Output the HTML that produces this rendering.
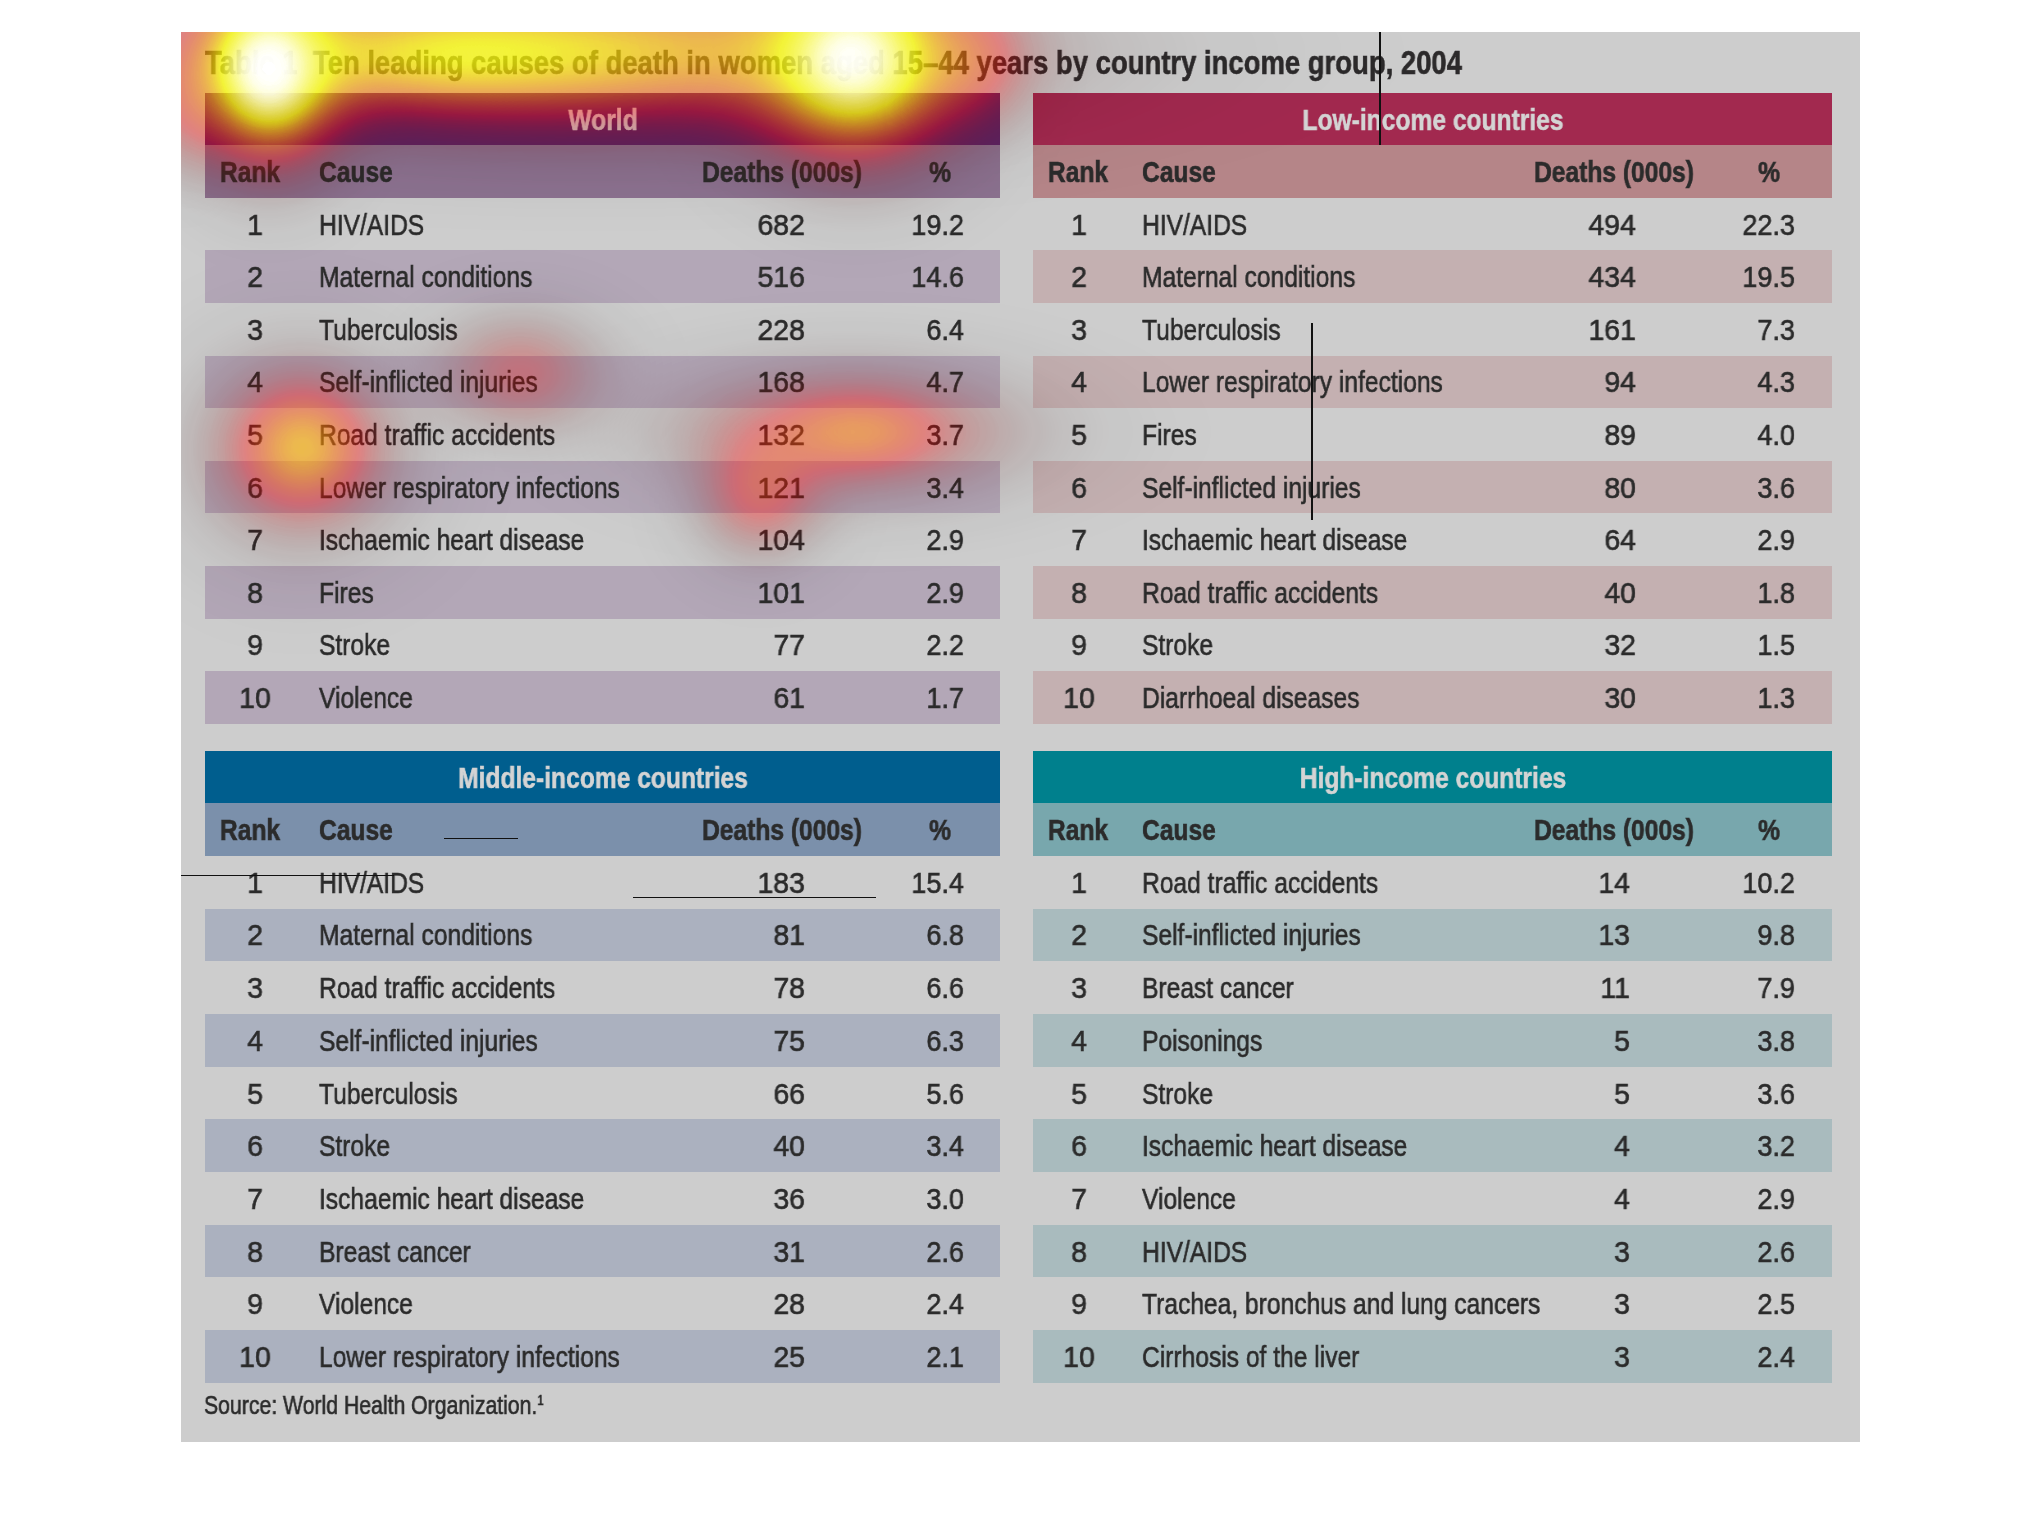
<!DOCTYPE html>
<html><head><meta charset="utf-8"><style>
html,body{margin:0;padding:0;width:2042px;height:1530px;background:#fff;overflow:hidden}
#panel{position:absolute;left:181px;top:32px;width:1679px;height:1410px;background:#cdcdcd}
.r{position:absolute}
.t{position:absolute;white-space:nowrap;font-family:"Liberation Sans",sans-serif;-webkit-text-stroke:0.6px currentColor;will-change:transform}
.ln{position:absolute;background:#111}
</style></head><body>
<div id="panel"></div>
<div class="t" style="left:205px;top:39px;width:1600px;height:46px;line-height:46px;transform-origin:0 0;transform:scaleX(0.808);font-size:34px;font-weight:700;color:#2c2a2b">Table 1&nbsp; Ten leading causes of death in women aged 15–44 years by country income group, 2004</div>
<div class="r" style="left:205px;top:93.00px;width:795px;height:52.00px;background:#5c2566"></div>
<div class="t" style="left:252.50px;top:93.70px;width:700px;height:52.00px;line-height:52.00px;text-align:center;transform-origin:50% 0;transform:scaleX(0.82);font-size:30px;font-weight:700;color:#d4d4d4;">World</div>
<div class="r" style="left:205px;top:145.00px;width:795px;height:52.80px;background:#8c7290"></div>
<div class="t" style="left:-100.50px;top:145.00px;width:700px;height:53.00px;line-height:53.00px;text-align:center;transform-origin:50% 0;transform:scaleX(0.82);font-size:30px;font-weight:700;color:#2b2b2b;">Rank</div>
<div class="t" style="left:319.00px;top:145.00px;width:700px;height:53.00px;line-height:53.00px;text-align:left;transform-origin:0 0;transform:scaleX(0.82);font-size:30px;font-weight:700;color:#2b2b2b;">Cause</div>
<div class="t" style="left:431.50px;top:145.00px;width:700px;height:53.00px;line-height:53.00px;text-align:center;transform-origin:50% 0;transform:scaleX(0.82);font-size:30px;font-weight:700;color:#2b2b2b;">Deaths (000s)</div>
<div class="t" style="left:589.50px;top:145.00px;width:700px;height:53.00px;line-height:53.00px;text-align:center;transform-origin:50% 0;transform:scaleX(0.82);font-size:30px;font-weight:700;color:#2b2b2b;">%</div>
<div class="t" style="left:-95.50px;top:198.60px;width:700px;height:52.60px;line-height:52.60px;text-align:center;transform-origin:50% 0;transform:scaleX(0.951);font-size:30px;font-weight:400;color:#2b2b2b;">1</div>
<div class="t" style="left:319.00px;top:198.60px;width:700px;height:52.60px;line-height:52.60px;text-align:left;transform-origin:0 0;transform:scaleX(0.82);font-size:30px;font-weight:400;color:#2b2b2b;">HIV/AIDS</div>
<div class="t" style="left:105.00px;top:198.60px;width:700px;height:52.60px;line-height:52.60px;text-align:right;transform-origin:100% 0;transform:scaleX(0.951);font-size:30px;font-weight:400;color:#2b2b2b;">682</div>
<div class="t" style="left:264.00px;top:198.60px;width:700px;height:52.60px;line-height:52.60px;text-align:right;transform-origin:100% 0;transform:scaleX(0.9);font-size:30px;font-weight:400;color:#2b2b2b;">19.2</div>
<div class="r" style="left:205px;top:250.40px;width:795px;height:52.60px;background:#b3a7b7"></div>
<div class="t" style="left:-95.50px;top:251.20px;width:700px;height:52.60px;line-height:52.60px;text-align:center;transform-origin:50% 0;transform:scaleX(0.951);font-size:30px;font-weight:400;color:#2b2b2b;">2</div>
<div class="t" style="left:319.00px;top:251.20px;width:700px;height:52.60px;line-height:52.60px;text-align:left;transform-origin:0 0;transform:scaleX(0.82);font-size:30px;font-weight:400;color:#2b2b2b;">Maternal conditions</div>
<div class="t" style="left:105.00px;top:251.20px;width:700px;height:52.60px;line-height:52.60px;text-align:right;transform-origin:100% 0;transform:scaleX(0.951);font-size:30px;font-weight:400;color:#2b2b2b;">516</div>
<div class="t" style="left:264.00px;top:251.20px;width:700px;height:52.60px;line-height:52.60px;text-align:right;transform-origin:100% 0;transform:scaleX(0.9);font-size:30px;font-weight:400;color:#2b2b2b;">14.6</div>
<div class="t" style="left:-95.50px;top:303.80px;width:700px;height:52.60px;line-height:52.60px;text-align:center;transform-origin:50% 0;transform:scaleX(0.951);font-size:30px;font-weight:400;color:#2b2b2b;">3</div>
<div class="t" style="left:319.00px;top:303.80px;width:700px;height:52.60px;line-height:52.60px;text-align:left;transform-origin:0 0;transform:scaleX(0.82);font-size:30px;font-weight:400;color:#2b2b2b;">Tuberculosis</div>
<div class="t" style="left:105.00px;top:303.80px;width:700px;height:52.60px;line-height:52.60px;text-align:right;transform-origin:100% 0;transform:scaleX(0.951);font-size:30px;font-weight:400;color:#2b2b2b;">228</div>
<div class="t" style="left:264.00px;top:303.80px;width:700px;height:52.60px;line-height:52.60px;text-align:right;transform-origin:100% 0;transform:scaleX(0.9);font-size:30px;font-weight:400;color:#2b2b2b;">6.4</div>
<div class="r" style="left:205px;top:355.60px;width:795px;height:52.60px;background:#b3a7b7"></div>
<div class="t" style="left:-95.50px;top:356.40px;width:700px;height:52.60px;line-height:52.60px;text-align:center;transform-origin:50% 0;transform:scaleX(0.951);font-size:30px;font-weight:400;color:#2b2b2b;">4</div>
<div class="t" style="left:319.00px;top:356.40px;width:700px;height:52.60px;line-height:52.60px;text-align:left;transform-origin:0 0;transform:scaleX(0.82);font-size:30px;font-weight:400;color:#2b2b2b;">Self-inflicted injuries</div>
<div class="t" style="left:105.00px;top:356.40px;width:700px;height:52.60px;line-height:52.60px;text-align:right;transform-origin:100% 0;transform:scaleX(0.951);font-size:30px;font-weight:400;color:#2b2b2b;">168</div>
<div class="t" style="left:264.00px;top:356.40px;width:700px;height:52.60px;line-height:52.60px;text-align:right;transform-origin:100% 0;transform:scaleX(0.9);font-size:30px;font-weight:400;color:#2b2b2b;">4.7</div>
<div class="t" style="left:-95.50px;top:409.00px;width:700px;height:52.60px;line-height:52.60px;text-align:center;transform-origin:50% 0;transform:scaleX(0.951);font-size:30px;font-weight:400;color:#2b2b2b;">5</div>
<div class="t" style="left:319.00px;top:409.00px;width:700px;height:52.60px;line-height:52.60px;text-align:left;transform-origin:0 0;transform:scaleX(0.82);font-size:30px;font-weight:400;color:#2b2b2b;">Road traffic accidents</div>
<div class="t" style="left:105.00px;top:409.00px;width:700px;height:52.60px;line-height:52.60px;text-align:right;transform-origin:100% 0;transform:scaleX(0.951);font-size:30px;font-weight:400;color:#2b2b2b;">132</div>
<div class="t" style="left:264.00px;top:409.00px;width:700px;height:52.60px;line-height:52.60px;text-align:right;transform-origin:100% 0;transform:scaleX(0.9);font-size:30px;font-weight:400;color:#2b2b2b;">3.7</div>
<div class="r" style="left:205px;top:460.80px;width:795px;height:52.60px;background:#b3a7b7"></div>
<div class="t" style="left:-95.50px;top:461.60px;width:700px;height:52.60px;line-height:52.60px;text-align:center;transform-origin:50% 0;transform:scaleX(0.951);font-size:30px;font-weight:400;color:#2b2b2b;">6</div>
<div class="t" style="left:319.00px;top:461.60px;width:700px;height:52.60px;line-height:52.60px;text-align:left;transform-origin:0 0;transform:scaleX(0.82);font-size:30px;font-weight:400;color:#2b2b2b;">Lower respiratory infections</div>
<div class="t" style="left:105.00px;top:461.60px;width:700px;height:52.60px;line-height:52.60px;text-align:right;transform-origin:100% 0;transform:scaleX(0.951);font-size:30px;font-weight:400;color:#2b2b2b;">121</div>
<div class="t" style="left:264.00px;top:461.60px;width:700px;height:52.60px;line-height:52.60px;text-align:right;transform-origin:100% 0;transform:scaleX(0.9);font-size:30px;font-weight:400;color:#2b2b2b;">3.4</div>
<div class="t" style="left:-95.50px;top:514.20px;width:700px;height:52.60px;line-height:52.60px;text-align:center;transform-origin:50% 0;transform:scaleX(0.951);font-size:30px;font-weight:400;color:#2b2b2b;">7</div>
<div class="t" style="left:319.00px;top:514.20px;width:700px;height:52.60px;line-height:52.60px;text-align:left;transform-origin:0 0;transform:scaleX(0.82);font-size:30px;font-weight:400;color:#2b2b2b;">Ischaemic heart disease</div>
<div class="t" style="left:105.00px;top:514.20px;width:700px;height:52.60px;line-height:52.60px;text-align:right;transform-origin:100% 0;transform:scaleX(0.951);font-size:30px;font-weight:400;color:#2b2b2b;">104</div>
<div class="t" style="left:264.00px;top:514.20px;width:700px;height:52.60px;line-height:52.60px;text-align:right;transform-origin:100% 0;transform:scaleX(0.9);font-size:30px;font-weight:400;color:#2b2b2b;">2.9</div>
<div class="r" style="left:205px;top:566.00px;width:795px;height:52.60px;background:#b3a7b7"></div>
<div class="t" style="left:-95.50px;top:566.80px;width:700px;height:52.60px;line-height:52.60px;text-align:center;transform-origin:50% 0;transform:scaleX(0.951);font-size:30px;font-weight:400;color:#2b2b2b;">8</div>
<div class="t" style="left:319.00px;top:566.80px;width:700px;height:52.60px;line-height:52.60px;text-align:left;transform-origin:0 0;transform:scaleX(0.82);font-size:30px;font-weight:400;color:#2b2b2b;">Fires</div>
<div class="t" style="left:105.00px;top:566.80px;width:700px;height:52.60px;line-height:52.60px;text-align:right;transform-origin:100% 0;transform:scaleX(0.951);font-size:30px;font-weight:400;color:#2b2b2b;">101</div>
<div class="t" style="left:264.00px;top:566.80px;width:700px;height:52.60px;line-height:52.60px;text-align:right;transform-origin:100% 0;transform:scaleX(0.9);font-size:30px;font-weight:400;color:#2b2b2b;">2.9</div>
<div class="t" style="left:-95.50px;top:619.40px;width:700px;height:52.60px;line-height:52.60px;text-align:center;transform-origin:50% 0;transform:scaleX(0.951);font-size:30px;font-weight:400;color:#2b2b2b;">9</div>
<div class="t" style="left:319.00px;top:619.40px;width:700px;height:52.60px;line-height:52.60px;text-align:left;transform-origin:0 0;transform:scaleX(0.82);font-size:30px;font-weight:400;color:#2b2b2b;">Stroke</div>
<div class="t" style="left:105.00px;top:619.40px;width:700px;height:52.60px;line-height:52.60px;text-align:right;transform-origin:100% 0;transform:scaleX(0.951);font-size:30px;font-weight:400;color:#2b2b2b;">77</div>
<div class="t" style="left:264.00px;top:619.40px;width:700px;height:52.60px;line-height:52.60px;text-align:right;transform-origin:100% 0;transform:scaleX(0.9);font-size:30px;font-weight:400;color:#2b2b2b;">2.2</div>
<div class="r" style="left:205px;top:671.20px;width:795px;height:52.60px;background:#b3a7b7"></div>
<div class="t" style="left:-95.50px;top:672.00px;width:700px;height:52.60px;line-height:52.60px;text-align:center;transform-origin:50% 0;transform:scaleX(0.951);font-size:30px;font-weight:400;color:#2b2b2b;">10</div>
<div class="t" style="left:319.00px;top:672.00px;width:700px;height:52.60px;line-height:52.60px;text-align:left;transform-origin:0 0;transform:scaleX(0.82);font-size:30px;font-weight:400;color:#2b2b2b;">Violence</div>
<div class="t" style="left:105.00px;top:672.00px;width:700px;height:52.60px;line-height:52.60px;text-align:right;transform-origin:100% 0;transform:scaleX(0.951);font-size:30px;font-weight:400;color:#2b2b2b;">61</div>
<div class="t" style="left:264.00px;top:672.00px;width:700px;height:52.60px;line-height:52.60px;text-align:right;transform-origin:100% 0;transform:scaleX(0.9);font-size:30px;font-weight:400;color:#2b2b2b;">1.7</div>
<div class="r" style="left:1033px;top:93.00px;width:799px;height:52.00px;background:#a2294f"></div>
<div class="t" style="left:1082.50px;top:93.70px;width:700px;height:52.00px;line-height:52.00px;text-align:center;transform-origin:50% 0;transform:scaleX(0.82);font-size:30px;font-weight:700;color:#d4d4d4;">Low-income countries</div>
<div class="r" style="left:1033px;top:145.00px;width:799px;height:52.80px;background:#b58588"></div>
<div class="t" style="left:728.00px;top:145.00px;width:700px;height:53.00px;line-height:53.00px;text-align:center;transform-origin:50% 0;transform:scaleX(0.82);font-size:30px;font-weight:700;color:#2b2b2b;">Rank</div>
<div class="t" style="left:1141.50px;top:145.00px;width:700px;height:53.00px;line-height:53.00px;text-align:left;transform-origin:0 0;transform:scaleX(0.82);font-size:30px;font-weight:700;color:#2b2b2b;">Cause</div>
<div class="t" style="left:1263.50px;top:145.00px;width:700px;height:53.00px;line-height:53.00px;text-align:center;transform-origin:50% 0;transform:scaleX(0.82);font-size:30px;font-weight:700;color:#2b2b2b;">Deaths (000s)</div>
<div class="t" style="left:1419.00px;top:145.00px;width:700px;height:53.00px;line-height:53.00px;text-align:center;transform-origin:50% 0;transform:scaleX(0.82);font-size:30px;font-weight:700;color:#2b2b2b;">%</div>
<div class="t" style="left:729.00px;top:198.60px;width:700px;height:52.60px;line-height:52.60px;text-align:center;transform-origin:50% 0;transform:scaleX(0.951);font-size:30px;font-weight:400;color:#2b2b2b;">1</div>
<div class="t" style="left:1141.50px;top:198.60px;width:700px;height:52.60px;line-height:52.60px;text-align:left;transform-origin:0 0;transform:scaleX(0.82);font-size:30px;font-weight:400;color:#2b2b2b;">HIV/AIDS</div>
<div class="t" style="left:936.00px;top:198.60px;width:700px;height:52.60px;line-height:52.60px;text-align:right;transform-origin:100% 0;transform:scaleX(0.951);font-size:30px;font-weight:400;color:#2b2b2b;">494</div>
<div class="t" style="left:1095.00px;top:198.60px;width:700px;height:52.60px;line-height:52.60px;text-align:right;transform-origin:100% 0;transform:scaleX(0.9);font-size:30px;font-weight:400;color:#2b2b2b;">22.3</div>
<div class="r" style="left:1033px;top:250.40px;width:799px;height:52.60px;background:#c4b0b1"></div>
<div class="t" style="left:729.00px;top:251.20px;width:700px;height:52.60px;line-height:52.60px;text-align:center;transform-origin:50% 0;transform:scaleX(0.951);font-size:30px;font-weight:400;color:#2b2b2b;">2</div>
<div class="t" style="left:1141.50px;top:251.20px;width:700px;height:52.60px;line-height:52.60px;text-align:left;transform-origin:0 0;transform:scaleX(0.82);font-size:30px;font-weight:400;color:#2b2b2b;">Maternal conditions</div>
<div class="t" style="left:936.00px;top:251.20px;width:700px;height:52.60px;line-height:52.60px;text-align:right;transform-origin:100% 0;transform:scaleX(0.951);font-size:30px;font-weight:400;color:#2b2b2b;">434</div>
<div class="t" style="left:1095.00px;top:251.20px;width:700px;height:52.60px;line-height:52.60px;text-align:right;transform-origin:100% 0;transform:scaleX(0.9);font-size:30px;font-weight:400;color:#2b2b2b;">19.5</div>
<div class="t" style="left:729.00px;top:303.80px;width:700px;height:52.60px;line-height:52.60px;text-align:center;transform-origin:50% 0;transform:scaleX(0.951);font-size:30px;font-weight:400;color:#2b2b2b;">3</div>
<div class="t" style="left:1141.50px;top:303.80px;width:700px;height:52.60px;line-height:52.60px;text-align:left;transform-origin:0 0;transform:scaleX(0.82);font-size:30px;font-weight:400;color:#2b2b2b;">Tuberculosis</div>
<div class="t" style="left:936.00px;top:303.80px;width:700px;height:52.60px;line-height:52.60px;text-align:right;transform-origin:100% 0;transform:scaleX(0.951);font-size:30px;font-weight:400;color:#2b2b2b;">161</div>
<div class="t" style="left:1095.00px;top:303.80px;width:700px;height:52.60px;line-height:52.60px;text-align:right;transform-origin:100% 0;transform:scaleX(0.9);font-size:30px;font-weight:400;color:#2b2b2b;">7.3</div>
<div class="r" style="left:1033px;top:355.60px;width:799px;height:52.60px;background:#c4b0b1"></div>
<div class="t" style="left:729.00px;top:356.40px;width:700px;height:52.60px;line-height:52.60px;text-align:center;transform-origin:50% 0;transform:scaleX(0.951);font-size:30px;font-weight:400;color:#2b2b2b;">4</div>
<div class="t" style="left:1141.50px;top:356.40px;width:700px;height:52.60px;line-height:52.60px;text-align:left;transform-origin:0 0;transform:scaleX(0.82);font-size:30px;font-weight:400;color:#2b2b2b;">Lower respiratory infections</div>
<div class="t" style="left:936.00px;top:356.40px;width:700px;height:52.60px;line-height:52.60px;text-align:right;transform-origin:100% 0;transform:scaleX(0.951);font-size:30px;font-weight:400;color:#2b2b2b;">94</div>
<div class="t" style="left:1095.00px;top:356.40px;width:700px;height:52.60px;line-height:52.60px;text-align:right;transform-origin:100% 0;transform:scaleX(0.9);font-size:30px;font-weight:400;color:#2b2b2b;">4.3</div>
<div class="t" style="left:729.00px;top:409.00px;width:700px;height:52.60px;line-height:52.60px;text-align:center;transform-origin:50% 0;transform:scaleX(0.951);font-size:30px;font-weight:400;color:#2b2b2b;">5</div>
<div class="t" style="left:1141.50px;top:409.00px;width:700px;height:52.60px;line-height:52.60px;text-align:left;transform-origin:0 0;transform:scaleX(0.82);font-size:30px;font-weight:400;color:#2b2b2b;">Fires</div>
<div class="t" style="left:936.00px;top:409.00px;width:700px;height:52.60px;line-height:52.60px;text-align:right;transform-origin:100% 0;transform:scaleX(0.951);font-size:30px;font-weight:400;color:#2b2b2b;">89</div>
<div class="t" style="left:1095.00px;top:409.00px;width:700px;height:52.60px;line-height:52.60px;text-align:right;transform-origin:100% 0;transform:scaleX(0.9);font-size:30px;font-weight:400;color:#2b2b2b;">4.0</div>
<div class="r" style="left:1033px;top:460.80px;width:799px;height:52.60px;background:#c4b0b1"></div>
<div class="t" style="left:729.00px;top:461.60px;width:700px;height:52.60px;line-height:52.60px;text-align:center;transform-origin:50% 0;transform:scaleX(0.951);font-size:30px;font-weight:400;color:#2b2b2b;">6</div>
<div class="t" style="left:1141.50px;top:461.60px;width:700px;height:52.60px;line-height:52.60px;text-align:left;transform-origin:0 0;transform:scaleX(0.82);font-size:30px;font-weight:400;color:#2b2b2b;">Self-inflicted injuries</div>
<div class="t" style="left:936.00px;top:461.60px;width:700px;height:52.60px;line-height:52.60px;text-align:right;transform-origin:100% 0;transform:scaleX(0.951);font-size:30px;font-weight:400;color:#2b2b2b;">80</div>
<div class="t" style="left:1095.00px;top:461.60px;width:700px;height:52.60px;line-height:52.60px;text-align:right;transform-origin:100% 0;transform:scaleX(0.9);font-size:30px;font-weight:400;color:#2b2b2b;">3.6</div>
<div class="t" style="left:729.00px;top:514.20px;width:700px;height:52.60px;line-height:52.60px;text-align:center;transform-origin:50% 0;transform:scaleX(0.951);font-size:30px;font-weight:400;color:#2b2b2b;">7</div>
<div class="t" style="left:1141.50px;top:514.20px;width:700px;height:52.60px;line-height:52.60px;text-align:left;transform-origin:0 0;transform:scaleX(0.82);font-size:30px;font-weight:400;color:#2b2b2b;">Ischaemic heart disease</div>
<div class="t" style="left:936.00px;top:514.20px;width:700px;height:52.60px;line-height:52.60px;text-align:right;transform-origin:100% 0;transform:scaleX(0.951);font-size:30px;font-weight:400;color:#2b2b2b;">64</div>
<div class="t" style="left:1095.00px;top:514.20px;width:700px;height:52.60px;line-height:52.60px;text-align:right;transform-origin:100% 0;transform:scaleX(0.9);font-size:30px;font-weight:400;color:#2b2b2b;">2.9</div>
<div class="r" style="left:1033px;top:566.00px;width:799px;height:52.60px;background:#c4b0b1"></div>
<div class="t" style="left:729.00px;top:566.80px;width:700px;height:52.60px;line-height:52.60px;text-align:center;transform-origin:50% 0;transform:scaleX(0.951);font-size:30px;font-weight:400;color:#2b2b2b;">8</div>
<div class="t" style="left:1141.50px;top:566.80px;width:700px;height:52.60px;line-height:52.60px;text-align:left;transform-origin:0 0;transform:scaleX(0.82);font-size:30px;font-weight:400;color:#2b2b2b;">Road traffic accidents</div>
<div class="t" style="left:936.00px;top:566.80px;width:700px;height:52.60px;line-height:52.60px;text-align:right;transform-origin:100% 0;transform:scaleX(0.951);font-size:30px;font-weight:400;color:#2b2b2b;">40</div>
<div class="t" style="left:1095.00px;top:566.80px;width:700px;height:52.60px;line-height:52.60px;text-align:right;transform-origin:100% 0;transform:scaleX(0.9);font-size:30px;font-weight:400;color:#2b2b2b;">1.8</div>
<div class="t" style="left:729.00px;top:619.40px;width:700px;height:52.60px;line-height:52.60px;text-align:center;transform-origin:50% 0;transform:scaleX(0.951);font-size:30px;font-weight:400;color:#2b2b2b;">9</div>
<div class="t" style="left:1141.50px;top:619.40px;width:700px;height:52.60px;line-height:52.60px;text-align:left;transform-origin:0 0;transform:scaleX(0.82);font-size:30px;font-weight:400;color:#2b2b2b;">Stroke</div>
<div class="t" style="left:936.00px;top:619.40px;width:700px;height:52.60px;line-height:52.60px;text-align:right;transform-origin:100% 0;transform:scaleX(0.951);font-size:30px;font-weight:400;color:#2b2b2b;">32</div>
<div class="t" style="left:1095.00px;top:619.40px;width:700px;height:52.60px;line-height:52.60px;text-align:right;transform-origin:100% 0;transform:scaleX(0.9);font-size:30px;font-weight:400;color:#2b2b2b;">1.5</div>
<div class="r" style="left:1033px;top:671.20px;width:799px;height:52.60px;background:#c4b0b1"></div>
<div class="t" style="left:729.00px;top:672.00px;width:700px;height:52.60px;line-height:52.60px;text-align:center;transform-origin:50% 0;transform:scaleX(0.951);font-size:30px;font-weight:400;color:#2b2b2b;">10</div>
<div class="t" style="left:1141.50px;top:672.00px;width:700px;height:52.60px;line-height:52.60px;text-align:left;transform-origin:0 0;transform:scaleX(0.82);font-size:30px;font-weight:400;color:#2b2b2b;">Diarrhoeal diseases</div>
<div class="t" style="left:936.00px;top:672.00px;width:700px;height:52.60px;line-height:52.60px;text-align:right;transform-origin:100% 0;transform:scaleX(0.951);font-size:30px;font-weight:400;color:#2b2b2b;">30</div>
<div class="t" style="left:1095.00px;top:672.00px;width:700px;height:52.60px;line-height:52.60px;text-align:right;transform-origin:100% 0;transform:scaleX(0.9);font-size:30px;font-weight:400;color:#2b2b2b;">1.3</div>
<div class="r" style="left:205px;top:751.00px;width:795px;height:52.00px;background:#005e8e"></div>
<div class="t" style="left:252.50px;top:751.70px;width:700px;height:52.00px;line-height:52.00px;text-align:center;transform-origin:50% 0;transform:scaleX(0.82);font-size:30px;font-weight:700;color:#d4d4d4;">Middle-income countries</div>
<div class="r" style="left:205px;top:803.00px;width:795px;height:52.90px;background:#7b90ab"></div>
<div class="t" style="left:-100.50px;top:803.00px;width:700px;height:53.00px;line-height:53.00px;text-align:center;transform-origin:50% 0;transform:scaleX(0.82);font-size:30px;font-weight:700;color:#2b2b2b;">Rank</div>
<div class="t" style="left:319.00px;top:803.00px;width:700px;height:53.00px;line-height:53.00px;text-align:left;transform-origin:0 0;transform:scaleX(0.82);font-size:30px;font-weight:700;color:#2b2b2b;">Cause</div>
<div class="t" style="left:431.50px;top:803.00px;width:700px;height:53.00px;line-height:53.00px;text-align:center;transform-origin:50% 0;transform:scaleX(0.82);font-size:30px;font-weight:700;color:#2b2b2b;">Deaths (000s)</div>
<div class="t" style="left:589.50px;top:803.00px;width:700px;height:53.00px;line-height:53.00px;text-align:center;transform-origin:50% 0;transform:scaleX(0.82);font-size:30px;font-weight:700;color:#2b2b2b;">%</div>
<div class="t" style="left:-95.50px;top:856.70px;width:700px;height:52.70px;line-height:52.70px;text-align:center;transform-origin:50% 0;transform:scaleX(0.951);font-size:30px;font-weight:400;color:#2b2b2b;">1</div>
<div class="t" style="left:319.00px;top:856.70px;width:700px;height:52.70px;line-height:52.70px;text-align:left;transform-origin:0 0;transform:scaleX(0.82);font-size:30px;font-weight:400;color:#2b2b2b;">HIV/AIDS</div>
<div class="t" style="left:105.00px;top:856.70px;width:700px;height:52.70px;line-height:52.70px;text-align:right;transform-origin:100% 0;transform:scaleX(0.951);font-size:30px;font-weight:400;color:#2b2b2b;">183</div>
<div class="t" style="left:264.00px;top:856.70px;width:700px;height:52.70px;line-height:52.70px;text-align:right;transform-origin:100% 0;transform:scaleX(0.9);font-size:30px;font-weight:400;color:#2b2b2b;">15.4</div>
<div class="r" style="left:205px;top:908.60px;width:795px;height:52.70px;background:#abb1bf"></div>
<div class="t" style="left:-95.50px;top:909.40px;width:700px;height:52.70px;line-height:52.70px;text-align:center;transform-origin:50% 0;transform:scaleX(0.951);font-size:30px;font-weight:400;color:#2b2b2b;">2</div>
<div class="t" style="left:319.00px;top:909.40px;width:700px;height:52.70px;line-height:52.70px;text-align:left;transform-origin:0 0;transform:scaleX(0.82);font-size:30px;font-weight:400;color:#2b2b2b;">Maternal conditions</div>
<div class="t" style="left:105.00px;top:909.40px;width:700px;height:52.70px;line-height:52.70px;text-align:right;transform-origin:100% 0;transform:scaleX(0.951);font-size:30px;font-weight:400;color:#2b2b2b;">81</div>
<div class="t" style="left:264.00px;top:909.40px;width:700px;height:52.70px;line-height:52.70px;text-align:right;transform-origin:100% 0;transform:scaleX(0.9);font-size:30px;font-weight:400;color:#2b2b2b;">6.8</div>
<div class="t" style="left:-95.50px;top:962.10px;width:700px;height:52.70px;line-height:52.70px;text-align:center;transform-origin:50% 0;transform:scaleX(0.951);font-size:30px;font-weight:400;color:#2b2b2b;">3</div>
<div class="t" style="left:319.00px;top:962.10px;width:700px;height:52.70px;line-height:52.70px;text-align:left;transform-origin:0 0;transform:scaleX(0.82);font-size:30px;font-weight:400;color:#2b2b2b;">Road traffic accidents</div>
<div class="t" style="left:105.00px;top:962.10px;width:700px;height:52.70px;line-height:52.70px;text-align:right;transform-origin:100% 0;transform:scaleX(0.951);font-size:30px;font-weight:400;color:#2b2b2b;">78</div>
<div class="t" style="left:264.00px;top:962.10px;width:700px;height:52.70px;line-height:52.70px;text-align:right;transform-origin:100% 0;transform:scaleX(0.9);font-size:30px;font-weight:400;color:#2b2b2b;">6.6</div>
<div class="r" style="left:205px;top:1014.00px;width:795px;height:52.70px;background:#abb1bf"></div>
<div class="t" style="left:-95.50px;top:1014.80px;width:700px;height:52.70px;line-height:52.70px;text-align:center;transform-origin:50% 0;transform:scaleX(0.951);font-size:30px;font-weight:400;color:#2b2b2b;">4</div>
<div class="t" style="left:319.00px;top:1014.80px;width:700px;height:52.70px;line-height:52.70px;text-align:left;transform-origin:0 0;transform:scaleX(0.82);font-size:30px;font-weight:400;color:#2b2b2b;">Self-inflicted injuries</div>
<div class="t" style="left:105.00px;top:1014.80px;width:700px;height:52.70px;line-height:52.70px;text-align:right;transform-origin:100% 0;transform:scaleX(0.951);font-size:30px;font-weight:400;color:#2b2b2b;">75</div>
<div class="t" style="left:264.00px;top:1014.80px;width:700px;height:52.70px;line-height:52.70px;text-align:right;transform-origin:100% 0;transform:scaleX(0.9);font-size:30px;font-weight:400;color:#2b2b2b;">6.3</div>
<div class="t" style="left:-95.50px;top:1067.50px;width:700px;height:52.70px;line-height:52.70px;text-align:center;transform-origin:50% 0;transform:scaleX(0.951);font-size:30px;font-weight:400;color:#2b2b2b;">5</div>
<div class="t" style="left:319.00px;top:1067.50px;width:700px;height:52.70px;line-height:52.70px;text-align:left;transform-origin:0 0;transform:scaleX(0.82);font-size:30px;font-weight:400;color:#2b2b2b;">Tuberculosis</div>
<div class="t" style="left:105.00px;top:1067.50px;width:700px;height:52.70px;line-height:52.70px;text-align:right;transform-origin:100% 0;transform:scaleX(0.951);font-size:30px;font-weight:400;color:#2b2b2b;">66</div>
<div class="t" style="left:264.00px;top:1067.50px;width:700px;height:52.70px;line-height:52.70px;text-align:right;transform-origin:100% 0;transform:scaleX(0.9);font-size:30px;font-weight:400;color:#2b2b2b;">5.6</div>
<div class="r" style="left:205px;top:1119.40px;width:795px;height:52.70px;background:#abb1bf"></div>
<div class="t" style="left:-95.50px;top:1120.20px;width:700px;height:52.70px;line-height:52.70px;text-align:center;transform-origin:50% 0;transform:scaleX(0.951);font-size:30px;font-weight:400;color:#2b2b2b;">6</div>
<div class="t" style="left:319.00px;top:1120.20px;width:700px;height:52.70px;line-height:52.70px;text-align:left;transform-origin:0 0;transform:scaleX(0.82);font-size:30px;font-weight:400;color:#2b2b2b;">Stroke</div>
<div class="t" style="left:105.00px;top:1120.20px;width:700px;height:52.70px;line-height:52.70px;text-align:right;transform-origin:100% 0;transform:scaleX(0.951);font-size:30px;font-weight:400;color:#2b2b2b;">40</div>
<div class="t" style="left:264.00px;top:1120.20px;width:700px;height:52.70px;line-height:52.70px;text-align:right;transform-origin:100% 0;transform:scaleX(0.9);font-size:30px;font-weight:400;color:#2b2b2b;">3.4</div>
<div class="t" style="left:-95.50px;top:1172.90px;width:700px;height:52.70px;line-height:52.70px;text-align:center;transform-origin:50% 0;transform:scaleX(0.951);font-size:30px;font-weight:400;color:#2b2b2b;">7</div>
<div class="t" style="left:319.00px;top:1172.90px;width:700px;height:52.70px;line-height:52.70px;text-align:left;transform-origin:0 0;transform:scaleX(0.82);font-size:30px;font-weight:400;color:#2b2b2b;">Ischaemic heart disease</div>
<div class="t" style="left:105.00px;top:1172.90px;width:700px;height:52.70px;line-height:52.70px;text-align:right;transform-origin:100% 0;transform:scaleX(0.951);font-size:30px;font-weight:400;color:#2b2b2b;">36</div>
<div class="t" style="left:264.00px;top:1172.90px;width:700px;height:52.70px;line-height:52.70px;text-align:right;transform-origin:100% 0;transform:scaleX(0.9);font-size:30px;font-weight:400;color:#2b2b2b;">3.0</div>
<div class="r" style="left:205px;top:1224.80px;width:795px;height:52.70px;background:#abb1bf"></div>
<div class="t" style="left:-95.50px;top:1225.60px;width:700px;height:52.70px;line-height:52.70px;text-align:center;transform-origin:50% 0;transform:scaleX(0.951);font-size:30px;font-weight:400;color:#2b2b2b;">8</div>
<div class="t" style="left:319.00px;top:1225.60px;width:700px;height:52.70px;line-height:52.70px;text-align:left;transform-origin:0 0;transform:scaleX(0.82);font-size:30px;font-weight:400;color:#2b2b2b;">Breast cancer</div>
<div class="t" style="left:105.00px;top:1225.60px;width:700px;height:52.70px;line-height:52.70px;text-align:right;transform-origin:100% 0;transform:scaleX(0.951);font-size:30px;font-weight:400;color:#2b2b2b;">31</div>
<div class="t" style="left:264.00px;top:1225.60px;width:700px;height:52.70px;line-height:52.70px;text-align:right;transform-origin:100% 0;transform:scaleX(0.9);font-size:30px;font-weight:400;color:#2b2b2b;">2.6</div>
<div class="t" style="left:-95.50px;top:1278.30px;width:700px;height:52.70px;line-height:52.70px;text-align:center;transform-origin:50% 0;transform:scaleX(0.951);font-size:30px;font-weight:400;color:#2b2b2b;">9</div>
<div class="t" style="left:319.00px;top:1278.30px;width:700px;height:52.70px;line-height:52.70px;text-align:left;transform-origin:0 0;transform:scaleX(0.82);font-size:30px;font-weight:400;color:#2b2b2b;">Violence</div>
<div class="t" style="left:105.00px;top:1278.30px;width:700px;height:52.70px;line-height:52.70px;text-align:right;transform-origin:100% 0;transform:scaleX(0.951);font-size:30px;font-weight:400;color:#2b2b2b;">28</div>
<div class="t" style="left:264.00px;top:1278.30px;width:700px;height:52.70px;line-height:52.70px;text-align:right;transform-origin:100% 0;transform:scaleX(0.9);font-size:30px;font-weight:400;color:#2b2b2b;">2.4</div>
<div class="r" style="left:205px;top:1330.20px;width:795px;height:52.70px;background:#abb1bf"></div>
<div class="t" style="left:-95.50px;top:1331.00px;width:700px;height:52.70px;line-height:52.70px;text-align:center;transform-origin:50% 0;transform:scaleX(0.951);font-size:30px;font-weight:400;color:#2b2b2b;">10</div>
<div class="t" style="left:319.00px;top:1331.00px;width:700px;height:52.70px;line-height:52.70px;text-align:left;transform-origin:0 0;transform:scaleX(0.82);font-size:30px;font-weight:400;color:#2b2b2b;">Lower respiratory infections</div>
<div class="t" style="left:105.00px;top:1331.00px;width:700px;height:52.70px;line-height:52.70px;text-align:right;transform-origin:100% 0;transform:scaleX(0.951);font-size:30px;font-weight:400;color:#2b2b2b;">25</div>
<div class="t" style="left:264.00px;top:1331.00px;width:700px;height:52.70px;line-height:52.70px;text-align:right;transform-origin:100% 0;transform:scaleX(0.9);font-size:30px;font-weight:400;color:#2b2b2b;">2.1</div>
<div class="r" style="left:1033px;top:751.00px;width:799px;height:52.00px;background:#00808d"></div>
<div class="t" style="left:1082.50px;top:751.70px;width:700px;height:52.00px;line-height:52.00px;text-align:center;transform-origin:50% 0;transform:scaleX(0.82);font-size:30px;font-weight:700;color:#d4d4d4;">High-income countries</div>
<div class="r" style="left:1033px;top:803.00px;width:799px;height:52.90px;background:#78a7ad"></div>
<div class="t" style="left:728.00px;top:803.00px;width:700px;height:53.00px;line-height:53.00px;text-align:center;transform-origin:50% 0;transform:scaleX(0.82);font-size:30px;font-weight:700;color:#2b2b2b;">Rank</div>
<div class="t" style="left:1141.50px;top:803.00px;width:700px;height:53.00px;line-height:53.00px;text-align:left;transform-origin:0 0;transform:scaleX(0.82);font-size:30px;font-weight:700;color:#2b2b2b;">Cause</div>
<div class="t" style="left:1263.50px;top:803.00px;width:700px;height:53.00px;line-height:53.00px;text-align:center;transform-origin:50% 0;transform:scaleX(0.82);font-size:30px;font-weight:700;color:#2b2b2b;">Deaths (000s)</div>
<div class="t" style="left:1419.00px;top:803.00px;width:700px;height:53.00px;line-height:53.00px;text-align:center;transform-origin:50% 0;transform:scaleX(0.82);font-size:30px;font-weight:700;color:#2b2b2b;">%</div>
<div class="t" style="left:729.00px;top:856.70px;width:700px;height:52.70px;line-height:52.70px;text-align:center;transform-origin:50% 0;transform:scaleX(0.951);font-size:30px;font-weight:400;color:#2b2b2b;">1</div>
<div class="t" style="left:1141.50px;top:856.70px;width:700px;height:52.70px;line-height:52.70px;text-align:left;transform-origin:0 0;transform:scaleX(0.82);font-size:30px;font-weight:400;color:#2b2b2b;">Road traffic accidents</div>
<div class="t" style="left:930.00px;top:856.70px;width:700px;height:52.70px;line-height:52.70px;text-align:right;transform-origin:100% 0;transform:scaleX(0.951);font-size:30px;font-weight:400;color:#2b2b2b;">14</div>
<div class="t" style="left:1095.00px;top:856.70px;width:700px;height:52.70px;line-height:52.70px;text-align:right;transform-origin:100% 0;transform:scaleX(0.9);font-size:30px;font-weight:400;color:#2b2b2b;">10.2</div>
<div class="r" style="left:1033px;top:908.60px;width:799px;height:52.70px;background:#a9bbbe"></div>
<div class="t" style="left:729.00px;top:909.40px;width:700px;height:52.70px;line-height:52.70px;text-align:center;transform-origin:50% 0;transform:scaleX(0.951);font-size:30px;font-weight:400;color:#2b2b2b;">2</div>
<div class="t" style="left:1141.50px;top:909.40px;width:700px;height:52.70px;line-height:52.70px;text-align:left;transform-origin:0 0;transform:scaleX(0.82);font-size:30px;font-weight:400;color:#2b2b2b;">Self-inflicted injuries</div>
<div class="t" style="left:930.00px;top:909.40px;width:700px;height:52.70px;line-height:52.70px;text-align:right;transform-origin:100% 0;transform:scaleX(0.951);font-size:30px;font-weight:400;color:#2b2b2b;">13</div>
<div class="t" style="left:1095.00px;top:909.40px;width:700px;height:52.70px;line-height:52.70px;text-align:right;transform-origin:100% 0;transform:scaleX(0.9);font-size:30px;font-weight:400;color:#2b2b2b;">9.8</div>
<div class="t" style="left:729.00px;top:962.10px;width:700px;height:52.70px;line-height:52.70px;text-align:center;transform-origin:50% 0;transform:scaleX(0.951);font-size:30px;font-weight:400;color:#2b2b2b;">3</div>
<div class="t" style="left:1141.50px;top:962.10px;width:700px;height:52.70px;line-height:52.70px;text-align:left;transform-origin:0 0;transform:scaleX(0.82);font-size:30px;font-weight:400;color:#2b2b2b;">Breast cancer</div>
<div class="t" style="left:930.00px;top:962.10px;width:700px;height:52.70px;line-height:52.70px;text-align:right;transform-origin:100% 0;transform:scaleX(0.951);font-size:30px;font-weight:400;color:#2b2b2b;">11</div>
<div class="t" style="left:1095.00px;top:962.10px;width:700px;height:52.70px;line-height:52.70px;text-align:right;transform-origin:100% 0;transform:scaleX(0.9);font-size:30px;font-weight:400;color:#2b2b2b;">7.9</div>
<div class="r" style="left:1033px;top:1014.00px;width:799px;height:52.70px;background:#a9bbbe"></div>
<div class="t" style="left:729.00px;top:1014.80px;width:700px;height:52.70px;line-height:52.70px;text-align:center;transform-origin:50% 0;transform:scaleX(0.951);font-size:30px;font-weight:400;color:#2b2b2b;">4</div>
<div class="t" style="left:1141.50px;top:1014.80px;width:700px;height:52.70px;line-height:52.70px;text-align:left;transform-origin:0 0;transform:scaleX(0.82);font-size:30px;font-weight:400;color:#2b2b2b;">Poisonings</div>
<div class="t" style="left:930.00px;top:1014.80px;width:700px;height:52.70px;line-height:52.70px;text-align:right;transform-origin:100% 0;transform:scaleX(0.951);font-size:30px;font-weight:400;color:#2b2b2b;">5</div>
<div class="t" style="left:1095.00px;top:1014.80px;width:700px;height:52.70px;line-height:52.70px;text-align:right;transform-origin:100% 0;transform:scaleX(0.9);font-size:30px;font-weight:400;color:#2b2b2b;">3.8</div>
<div class="t" style="left:729.00px;top:1067.50px;width:700px;height:52.70px;line-height:52.70px;text-align:center;transform-origin:50% 0;transform:scaleX(0.951);font-size:30px;font-weight:400;color:#2b2b2b;">5</div>
<div class="t" style="left:1141.50px;top:1067.50px;width:700px;height:52.70px;line-height:52.70px;text-align:left;transform-origin:0 0;transform:scaleX(0.82);font-size:30px;font-weight:400;color:#2b2b2b;">Stroke</div>
<div class="t" style="left:930.00px;top:1067.50px;width:700px;height:52.70px;line-height:52.70px;text-align:right;transform-origin:100% 0;transform:scaleX(0.951);font-size:30px;font-weight:400;color:#2b2b2b;">5</div>
<div class="t" style="left:1095.00px;top:1067.50px;width:700px;height:52.70px;line-height:52.70px;text-align:right;transform-origin:100% 0;transform:scaleX(0.9);font-size:30px;font-weight:400;color:#2b2b2b;">3.6</div>
<div class="r" style="left:1033px;top:1119.40px;width:799px;height:52.70px;background:#a9bbbe"></div>
<div class="t" style="left:729.00px;top:1120.20px;width:700px;height:52.70px;line-height:52.70px;text-align:center;transform-origin:50% 0;transform:scaleX(0.951);font-size:30px;font-weight:400;color:#2b2b2b;">6</div>
<div class="t" style="left:1141.50px;top:1120.20px;width:700px;height:52.70px;line-height:52.70px;text-align:left;transform-origin:0 0;transform:scaleX(0.82);font-size:30px;font-weight:400;color:#2b2b2b;">Ischaemic heart disease</div>
<div class="t" style="left:930.00px;top:1120.20px;width:700px;height:52.70px;line-height:52.70px;text-align:right;transform-origin:100% 0;transform:scaleX(0.951);font-size:30px;font-weight:400;color:#2b2b2b;">4</div>
<div class="t" style="left:1095.00px;top:1120.20px;width:700px;height:52.70px;line-height:52.70px;text-align:right;transform-origin:100% 0;transform:scaleX(0.9);font-size:30px;font-weight:400;color:#2b2b2b;">3.2</div>
<div class="t" style="left:729.00px;top:1172.90px;width:700px;height:52.70px;line-height:52.70px;text-align:center;transform-origin:50% 0;transform:scaleX(0.951);font-size:30px;font-weight:400;color:#2b2b2b;">7</div>
<div class="t" style="left:1141.50px;top:1172.90px;width:700px;height:52.70px;line-height:52.70px;text-align:left;transform-origin:0 0;transform:scaleX(0.82);font-size:30px;font-weight:400;color:#2b2b2b;">Violence</div>
<div class="t" style="left:930.00px;top:1172.90px;width:700px;height:52.70px;line-height:52.70px;text-align:right;transform-origin:100% 0;transform:scaleX(0.951);font-size:30px;font-weight:400;color:#2b2b2b;">4</div>
<div class="t" style="left:1095.00px;top:1172.90px;width:700px;height:52.70px;line-height:52.70px;text-align:right;transform-origin:100% 0;transform:scaleX(0.9);font-size:30px;font-weight:400;color:#2b2b2b;">2.9</div>
<div class="r" style="left:1033px;top:1224.80px;width:799px;height:52.70px;background:#a9bbbe"></div>
<div class="t" style="left:729.00px;top:1225.60px;width:700px;height:52.70px;line-height:52.70px;text-align:center;transform-origin:50% 0;transform:scaleX(0.951);font-size:30px;font-weight:400;color:#2b2b2b;">8</div>
<div class="t" style="left:1141.50px;top:1225.60px;width:700px;height:52.70px;line-height:52.70px;text-align:left;transform-origin:0 0;transform:scaleX(0.82);font-size:30px;font-weight:400;color:#2b2b2b;">HIV/AIDS</div>
<div class="t" style="left:930.00px;top:1225.60px;width:700px;height:52.70px;line-height:52.70px;text-align:right;transform-origin:100% 0;transform:scaleX(0.951);font-size:30px;font-weight:400;color:#2b2b2b;">3</div>
<div class="t" style="left:1095.00px;top:1225.60px;width:700px;height:52.70px;line-height:52.70px;text-align:right;transform-origin:100% 0;transform:scaleX(0.9);font-size:30px;font-weight:400;color:#2b2b2b;">2.6</div>
<div class="t" style="left:729.00px;top:1278.30px;width:700px;height:52.70px;line-height:52.70px;text-align:center;transform-origin:50% 0;transform:scaleX(0.951);font-size:30px;font-weight:400;color:#2b2b2b;">9</div>
<div class="t" style="left:1141.50px;top:1278.30px;width:700px;height:52.70px;line-height:52.70px;text-align:left;transform-origin:0 0;transform:scaleX(0.82);font-size:30px;font-weight:400;color:#2b2b2b;">Trachea, bronchus and lung cancers</div>
<div class="t" style="left:930.00px;top:1278.30px;width:700px;height:52.70px;line-height:52.70px;text-align:right;transform-origin:100% 0;transform:scaleX(0.951);font-size:30px;font-weight:400;color:#2b2b2b;">3</div>
<div class="t" style="left:1095.00px;top:1278.30px;width:700px;height:52.70px;line-height:52.70px;text-align:right;transform-origin:100% 0;transform:scaleX(0.9);font-size:30px;font-weight:400;color:#2b2b2b;">2.5</div>
<div class="r" style="left:1033px;top:1330.20px;width:799px;height:52.70px;background:#a9bbbe"></div>
<div class="t" style="left:729.00px;top:1331.00px;width:700px;height:52.70px;line-height:52.70px;text-align:center;transform-origin:50% 0;transform:scaleX(0.951);font-size:30px;font-weight:400;color:#2b2b2b;">10</div>
<div class="t" style="left:1141.50px;top:1331.00px;width:700px;height:52.70px;line-height:52.70px;text-align:left;transform-origin:0 0;transform:scaleX(0.82);font-size:30px;font-weight:400;color:#2b2b2b;">Cirrhosis of the liver</div>
<div class="t" style="left:930.00px;top:1331.00px;width:700px;height:52.70px;line-height:52.70px;text-align:right;transform-origin:100% 0;transform:scaleX(0.951);font-size:30px;font-weight:400;color:#2b2b2b;">3</div>
<div class="t" style="left:1095.00px;top:1331.00px;width:700px;height:52.70px;line-height:52.70px;text-align:right;transform-origin:100% 0;transform:scaleX(0.9);font-size:30px;font-weight:400;color:#2b2b2b;">2.4</div>
<div class="t" style="left:204px;top:1388px;width:800px;height:34px;line-height:34px;transform-origin:0 0;transform:scaleX(0.816);font-size:26px;color:#2b2b2b">Source: World Health Organization.<sup style="font-size:14px;vertical-align:9px;line-height:0">1</sup></div>
<svg style="position:absolute;left:181px;top:32px" width="1679" height="1410">
<defs><radialGradient id="gg" cx="0.5" cy="0.5" r="0.5"><stop offset="0.000" stop-color="#fff" stop-opacity="0.9978"/><stop offset="0.050" stop-color="#fff" stop-opacity="0.9826"/><stop offset="0.100" stop-color="#fff" stop-opacity="0.9384"/><stop offset="0.150" stop-color="#fff" stop-opacity="0.8691"/><stop offset="0.200" stop-color="#fff" stop-opacity="0.7805"/><stop offset="0.250" stop-color="#fff" stop-opacity="0.6797"/><stop offset="0.300" stop-color="#fff" stop-opacity="0.5740"/><stop offset="0.350" stop-color="#fff" stop-opacity="0.4700"/><stop offset="0.400" stop-color="#fff" stop-opacity="0.3731"/><stop offset="0.450" stop-color="#fff" stop-opacity="0.2871"/><stop offset="0.500" stop-color="#fff" stop-opacity="0.2141"/><stop offset="0.550" stop-color="#fff" stop-opacity="0.1546"/><stop offset="0.600" stop-color="#fff" stop-opacity="0.1081"/><stop offset="0.650" stop-color="#fff" stop-opacity="0.0730"/><stop offset="0.700" stop-color="#fff" stop-opacity="0.0475"/><stop offset="0.750" stop-color="#fff" stop-opacity="0.0297"/><stop offset="0.800" stop-color="#fff" stop-opacity="0.0176"/><stop offset="0.850" stop-color="#fff" stop-opacity="0.0098"/><stop offset="0.900" stop-color="#fff" stop-opacity="0.0048"/><stop offset="0.950" stop-color="#fff" stop-opacity="0.0018"/><stop offset="1.000" stop-color="#fff" stop-opacity="0.0000"/></radialGradient>
<filter id="hm" x="0" y="0" width="1679" height="1410" filterUnits="userSpaceOnUse" color-interpolation-filters="sRGB">
<feComponentTransfer><feFuncA type="linear" slope="1.0" intercept="0"/></feComponentTransfer>
<feColorMatrix type="matrix" values="0 0 0 1 0  0 0 0 1 0  0 0 0 1 0  0 0 0 1 0"/>
<feComponentTransfer>
<feFuncR type="table" tableValues="0.000 0.043 0.086 0.128 0.171 0.214 0.257 0.300 0.342 0.385 0.428 0.471 0.514 0.557 0.599 0.642 0.685 0.728 0.771 0.813 0.856 0.899 0.942 0.974 1.000 1.000 1.000 1.000 1.000 1.000 1.000 1.000 1.000 1.000 1.000 1.000 1.000 1.000 1.000 1.000 1.000 1.000 1.000 1.000 1.000 1.000 1.000 1.000 1.000 1.000 1.000 1.000 1.000 1.000 1.000 1.000 1.000 1.000 1.000 1.000 1.000 1.000 1.000 1.000 1.000"/>
<feFuncG type="table" tableValues="0.000 0.000 0.000 0.000 0.000 0.000 0.000 0.000 0.000 0.000 0.000 0.000 0.000 0.000 0.000 0.000 0.000 0.000 0.000 0.000 0.000 0.000 0.000 0.010 0.026 0.067 0.108 0.149 0.190 0.231 0.272 0.313 0.354 0.395 0.436 0.477 0.518 0.559 0.600 0.641 0.682 0.723 0.764 0.805 0.846 0.887 0.928 0.966 1.000 1.000 1.000 1.000 1.000 1.000 1.000 1.000 1.000 1.000 1.000 1.000 1.000 1.000 1.000 1.000 1.000"/>
<feFuncB type="table" tableValues="0.000 0.000 0.000 0.000 0.000 0.000 0.000 0.000 0.000 0.000 0.000 0.000 0.000 0.000 0.000 0.000 0.000 0.000 0.000 0.000 0.000 0.000 0.000 0.000 0.000 0.000 0.000 0.000 0.000 0.000 0.000 0.000 0.000 0.000 0.000 0.000 0.000 0.000 0.000 0.000 0.000 0.000 0.000 0.000 0.000 0.000 0.000 0.006 0.016 0.077 0.139 0.200 0.262 0.323 0.385 0.446 0.508 0.569 0.631 0.692 0.754 0.815 0.877 0.938 1.000"/>
<feFuncA type="table" tableValues="0.000 0.016 0.031 0.047 0.062 0.078 0.094 0.109 0.125 0.141 0.156 0.172 0.188 0.203 0.219 0.234 0.250 0.266 0.281 0.297 0.312 0.328 0.344 0.359 0.375 0.391 0.406 0.422 0.438 0.453 0.469 0.484 0.500 0.516 0.531 0.547 0.562 0.578 0.594 0.609 0.625 0.641 0.656 0.672 0.688 0.703 0.719 0.734 0.750 0.766 0.781 0.797 0.812 0.828 0.844 0.859 0.875 0.891 0.906 0.922 0.938 0.953 0.969 0.984 1.000"/>
</feComponentTransfer>
</filter></defs>
<g filter="url(#hm)"><ellipse cx="88" cy="38" rx="175.0" ry="217.0" fill="url(#gg)" opacity="1.0"/><ellipse cx="88" cy="34" rx="70.0" ry="70.0" fill="url(#gg)" opacity="0.9"/><ellipse cx="674" cy="28" rx="238.0" ry="231.0" fill="url(#gg)" opacity="0.95"/><ellipse cx="667" cy="24" rx="77.0" ry="70.0" fill="url(#gg)" opacity="0.8"/><ellipse cx="409" cy="20" rx="875.0" ry="192.5" fill="url(#gg)" opacity="0.66"/><ellipse cx="249" cy="23" rx="385.0" ry="122.5" fill="url(#gg)" opacity="0.45"/><ellipse cx="794" cy="30" rx="133.0" ry="147.0" fill="url(#gg)" opacity="0.22"/><ellipse cx="2" cy="78" rx="105.0" ry="157.5" fill="url(#gg)" opacity="0.2"/><ellipse cx="122" cy="415" rx="147.0" ry="140.0" fill="url(#gg)" opacity="0.45"/><ellipse cx="119" cy="420" rx="245.0" ry="227.5" fill="url(#gg)" opacity="0.33"/><ellipse cx="679" cy="400" rx="175.0" ry="91.0" fill="url(#gg)" opacity="0.25"/><ellipse cx="669" cy="400" rx="402.5" ry="157.5" fill="url(#gg)" opacity="0.38"/><ellipse cx="579" cy="465" rx="147.0" ry="147.0" fill="url(#gg)" opacity="0.35"/><ellipse cx="339" cy="341" rx="192.5" ry="140.0" fill="url(#gg)" opacity="0.32"/></g></svg>
<div class="ln" style="left:1379px;top:32px;width:1.5px;height:113px"></div>
<div class="ln" style="left:1311px;top:323px;width:1.5px;height:197px"></div>
<div class="ln" style="left:444px;top:837.5px;width:74px;height:1.5px"></div>
<div class="ln" style="left:181px;top:874.5px;width:213px;height:1.5px"></div>
<div class="ln" style="left:633px;top:896.5px;width:243px;height:1.5px"></div>
</body></html>
